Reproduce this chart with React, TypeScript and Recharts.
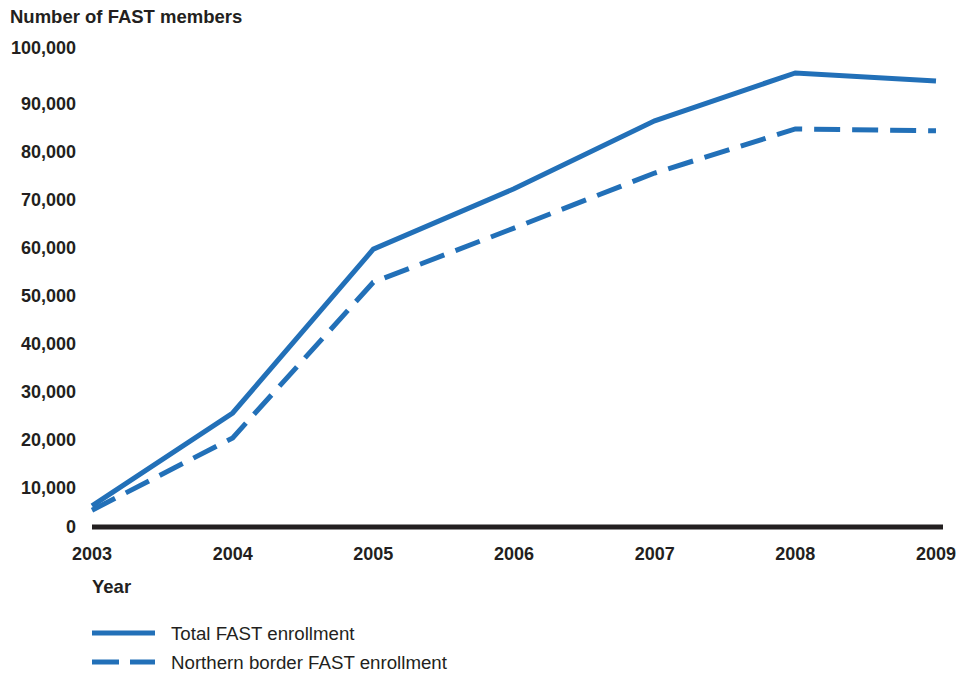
import React from 'react';
import { LineChart, Line, XAxis, YAxis } from 'recharts';

const years = ['2003', '2004', '2005', '2006', '2007', '2008', '2009'];
const totalEnrollment = [4400, 23800, 58000, 70600, 84800, 94800, 93100];
const northernEnrollment = [3500, 18600, 51100, 62400, 73900, 83100, 82700];
const yTicks = [0, 10000, 20000, 30000, 40000, 50000, 60000, 70000, 80000, 90000, 100000];

const seriesNames = ['Total FAST enrollment', 'Northern border FAST enrollment'];
const BLUE = '#2270B8';
const INK = '#231f20';
const FONT = '"Liberation Sans", Arial, Helvetica, sans-serif';

const data = years.map((y, i) => ({
  year: y,
  total: totalEnrollment[i],
  northern: northernEnrollment[i],
}));

const fmt = (v: number) => v.toLocaleString('en-US');

const YTick = (props: any) => {
  const { x, y, payload } = props;
  const v = payload.value;
  const shift = v === 0 || v === 100000 ? 0 : 8;
  return (
    <text x={x} y={y + shift} dy="0.36em" textAnchor="end" fill={INK} fontFamily={FONT} fontWeight="bold" fontSize={18}>
      {fmt(v)}
    </text>
  );
};

const XTick = (props: any) => {
  const { x, y, payload } = props;
  return (
    <text x={x} y={y} dy="0.71em" textAnchor="middle" fill={INK} fontFamily={FONT} fontWeight="bold" fontSize={18}>
      {payload.value}
    </text>
  );
};

export default function App() {
  return (
    <div style={{ position: 'absolute', left: 0, top: 0, width: 972, height: 675, background: '#fff' }}>
      <div style={{ position: 'absolute', left: 10, top: 6, fontFamily: FONT, fontWeight: 'bold', fontSize: 18.5, color: INK, whiteSpace: 'nowrap' }}>
        Number of FAST members
      </div>
      <div style={{ position: 'absolute', left: 92, top: 576, fontFamily: FONT, fontWeight: 'bold', fontSize: 18.5, color: INK }}>
        Year
      </div>
      <LineChart width={972} height={675} data={data} margin={{ top: 48, right: 29, bottom: 108, left: 0 }}>
        <XAxis
          dataKey="year"
          axisLine={{ stroke: INK, strokeWidth: 5 }}
          tickLine={false}
          tick={<XTick />}
          tickMargin={14}
          padding={{ left: 0, right: 7 }}
          interval={0}
          height={40}
        />
        <YAxis
          domain={[0, 100000]}
          ticks={yTicks}
          axisLine={false}
          tickLine={false}
          tick={<YTick />}
          tickMargin={10}
          width={92}
          interval={0}
        />
        <Line type="linear" dataKey="total" name={seriesNames[0]} stroke={BLUE} strokeWidth={5} dot={false} isAnimationActive={false} />
        <Line type="linear" dataKey="northern" name={seriesNames[1]} stroke={BLUE} strokeWidth={5} strokeDasharray="26 12" dot={false} isAnimationActive={false} />
      </LineChart>
      <svg style={{ position: 'absolute', left: 92, top: 623 }} width={400} height={60}>
        <line x1={0} y1={10} x2={63} y2={10} stroke={BLUE} strokeWidth={5} />
        <text x={79} y={10} dy="0.36em" fill={INK} fontFamily={FONT} fontSize={18.7}>{seriesNames[0]}</text>
        <line x1={0} y1={39} x2={63} y2={39} stroke={BLUE} strokeWidth={5} strokeDasharray="27 11" />
        <text x={79} y={39} dy="0.36em" fill={INK} fontFamily={FONT} fontSize={18.7}>{seriesNames[1]}</text>
      </svg>
    </div>
  );
}
